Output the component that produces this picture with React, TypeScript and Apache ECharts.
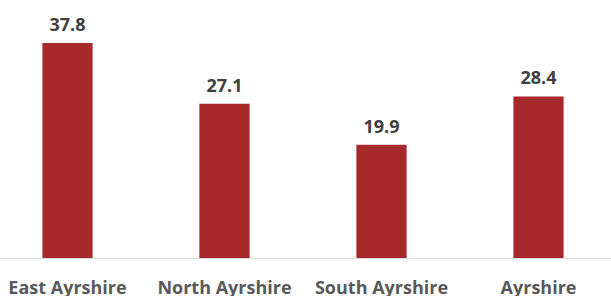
import React, { useEffect, useRef } from "react";
import * as echarts from "echarts";

const categories = ["East Ayrshire", "North Ayrshire", "South Ayrshire", "Ayrshire"];
const values = [37.8, 27.1, 19.9, 28.4];

export default function App() {
  const ref = useRef<HTMLDivElement>(null);
  useEffect(() => {
    if (!ref.current) return;
    const chart = echarts.init(ref.current, null, { renderer: "svg" });
    chart.setOption({
      animation: false,
      grid: { left: 0, right: 0, top: 30.5, bottom: 38, containLabel: false },
      xAxis: {
        type: "category",
        data: categories,
        axisLine: { show: true, lineStyle: { color: "#d9d9d9", width: 1 } },
        axisTick: { show: false },
        axisLabel: {
          color: "#595959",
          fontFamily: "Open Sans",
          fontWeight: "bold",
          fontSize: 18,
          margin: 20,
          interval: 0,
        },
      },
      yAxis: {
        type: "value",
        min: 0,
        max: 40,
        show: false,
        splitLine: { show: false },
      },
      series: [
        {
          type: "bar",
          data: values,
          barWidth: "32%",
          itemStyle: { color: "#A8292B" },
          label: {
            show: true,
            position: "top",
            distance: 10,
            color: "#404040",
            fontFamily: "Open Sans",
            fontWeight: "bold",
            fontSize: 18,
            formatter: (p: any) => p.value.toFixed(1),
          },
        },
      ],
    });
    return () => chart.dispose();
  }, []);
  return (
    <div style={{ position: "absolute", left: 0, top: 0, width: 611, height: 296, overflow: "hidden" }}>
      <div ref={ref} style={{ position: "absolute", left: -11.5, top: 0, width: 628, height: 296 }} />
    </div>
  );
}
